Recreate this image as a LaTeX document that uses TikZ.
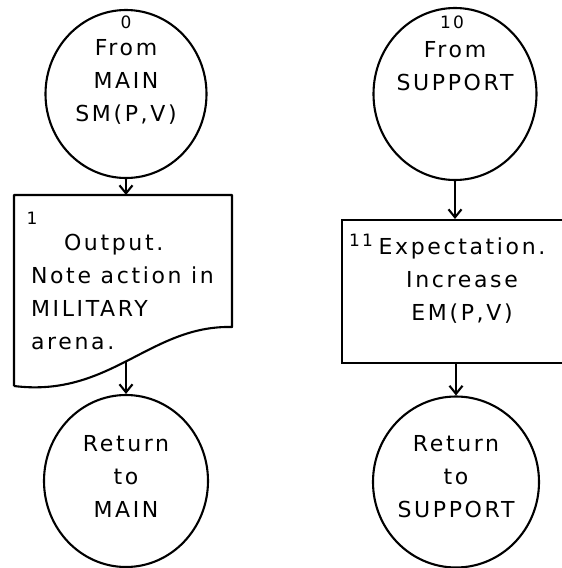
\documentclass[tikz,border=0pt]{standalone}
\usepackage{fontspec}
\setmainfont{DejaVu Sans}[LetterSpace=12]
\usetikzlibrary{arrows.meta,shapes.geometric}
\begin{document}
\begin{tikzpicture}[x=1pt,y=-1pt,line width=2.1pt,
  term/.style={ellipse,draw,inner sep=0pt},
  flowarrow/.style={-{Straight Barb[length=8pt,width=13pt]}},
  txt/.style={font=\fontsize{22}{33}\selectfont,align=center,inner sep=0pt},
  num/.style={font=\fontsize{17}{18}\selectfont,inner sep=0pt}]
\useasboundingbox (0,0) rectangle (562,568);
\clip (0,0) rectangle (562,568);

% terminals
\node[term,minimum width=161pt,minimum height=168pt] (c0)  at (126,94)  {};
\node[term,minimum width=163pt,minimum height=172pt] (c10) at (455,94)  {};
\node[term,minimum width=164pt,minimum height=172pt] (c2)  at (126,481) {};
\node[term,minimum width=166pt,minimum height=171pt] (c12) at (456,482) {};

% output (document) box 1
\node[minimum width=218pt,minimum height=191pt,anchor=north west,inner sep=0pt] (b1) at (14,195) {};
\coordinate (b1nw) at (14,195);
\coordinate (b1ne) at (232,195);
\coordinate (b1se) at (232,327);
\coordinate (b1sw) at (14,386);
\coordinate (b1out) at (126,361);
\draw[line join=round] (b1sw) -- (b1nw) -- (b1ne) -- (b1se)
  .. controls (150,325) and (110,398) .. (b1sw);

% process box 11
\node[draw,minimum width=240pt,minimum height=143pt,anchor=north west,inner sep=0pt] (b11) at (341,219) {};

% connectors
\draw[flowarrow] (c0.south) -- (c0.south |- b1.north);
\draw[flowarrow] (b1out) -- (c2.north);
\draw[flowarrow] (c10.south) -- (c10.south |- b11.north);
\draw[flowarrow] (b11.south -| c12.north) -- (c12.north);

% texts
\node[num] (n0) at (126,22) {0};
\node[txt] (t0) at (126,82) {From\\MAIN\\SM(P,V)};
\node[num] (n10) at (452,22) {10};
\node[txt] (t10) at (455,66) {From\\SUPPORT};
\node[num] (n1) at (32,218) {1};
\node[txt,align=left,anchor=west] (t1) at (30,292) {\hspace*{33pt}Output.\\Note action in\\MILITARY\\arena.};
\node[num] (n11) at (361,240) {11};
\node[txt] (t11) at (462,281) {Expectation.\\Increase\\EM(P,V)};
\node[txt] (t2) at (126,476) {Return\\to\\MAIN};
\node[txt] (t12) at (456,477) {Return\\to\\SUPPORT};
\end{tikzpicture}
\end{document}
